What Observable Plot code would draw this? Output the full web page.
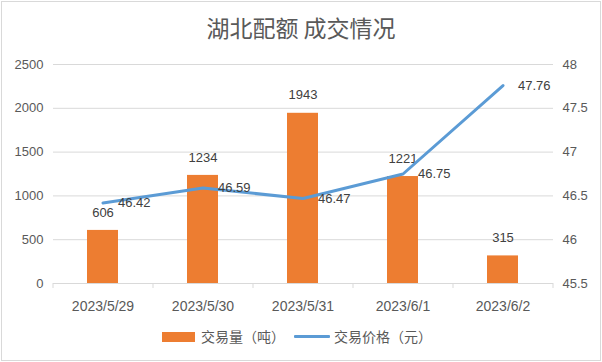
<!DOCTYPE html>
<html><head><meta charset="utf-8">
<script src="https://cdn.jsdelivr.net/npm/d3@7"></script>
<script src="https://cdn.jsdelivr.net/npm/@observablehq/plot@0.6"></script>
<style>
body{margin:0;background:#fff;}
#wrap{position:relative;width:602px;height:362px;overflow:hidden;background:#fff;}
#frame{position:absolute;left:1px;top:1px;width:600px;height:360px;border:1px solid #d9d9d9;box-sizing:border-box;}
#title{position:absolute;left:0;top:15px;width:602px;text-align:center;font-family:"Noto Sans CJK SC",sans-serif;font-size:23px;line-height:24px;color:#595959;}
#chart{position:absolute;left:0;top:44px;}
.lg{position:absolute;font-family:"Noto Sans CJK SC",sans-serif;font-size:14px;line-height:16px;color:#595959;white-space:nowrap;}
</style>
</head><body>
<div id="wrap">
  <div id="frame"></div>
  <div id="title">湖北配额 成交情况</div>
  <div id="chart"></div>
  <div class="lg" style="left:162px;top:332px;width:33px;height:10px;background:#ED7D31;"></div>
  <div class="lg" id="lg1" style="left:201px;top:328px;"></div>
  <div class="lg" style="left:294px;top:335px;width:36px;height:3px;background:#5B9BD5;border-radius:1px;"></div>
  <div class="lg" id="lg2" style="left:334px;top:328px;"></div>
</div>
<script>
const dates = ["2023/5/29","2023/5/30","2023/5/31","2023/6/1","2023/6/2"];
const volume = [606, 1234, 1943, 1221, 315];
const price = [46.42, 46.59, 46.47, 46.75, 47.76];
const volTicks = [0, 500, 1000, 1500, 2000, 2500];
const priceTicks = [45.5, 46, 46.5, 47, 47.5, 48];
const seriesNames = ["交易量（吨）", "交易价格（元）"];

document.getElementById("lg1").textContent = seriesNames[0];
document.getElementById("lg2").textContent = seriesNames[1];

const pMin = priceTicks[0], pMax = priceTicks[priceTicks.length - 1];
const vMax = volTicks[volTicks.length - 1];
const toVol = p => (p - pMin) / (pMax - pMin) * vMax;
const toPrice = v => pMin + v / vMax * (pMax - pMin);
const rows = dates.map((d, i) => ({date: d, volume: volume[i], price: price[i], pv: toVol(price[i])}));

const numFont = "'Liberation Sans', 'Noto Sans CJK SC', sans-serif";
const chart = Plot.plot({
  width: 602, height: 276,
  marginLeft: 53, marginRight: 49, marginTop: 20, marginBottom: 37,
  style: {fontFamily: numFont, fontSize: "13px", color: "#595959", background: "transparent"},
  x: {domain: dates, paddingInner: 0.69, paddingOuter: 0.345},
  y: {domain: [0, vMax]},
  marks: [
    Plot.ruleY(volTicks.slice(1), {stroke: "#d9d9d9", strokeWidth: 1}),
    Plot.ruleY([0], {stroke: "#d9d9d9", strokeWidth: 1}),
    Plot.ruleX(dates, {x: d => d, dx: -50, y1: 0, y2: -57, stroke: "#d9d9d9"}),
    Plot.ruleX(dates.slice(-1), {x: d => d, dx: 50, y1: 0, y2: -57, stroke: "#d9d9d9"}),
    Plot.barY(rows, {x: "date", y: "volume", fill: "#ED7D31"}),
    Plot.text(rows, {x: "date", y: "volume", text: d => String(d.volume), dy: -18, fill: "#404040", fontSize: 13}),
    Plot.line(rows, {x: "date", y: "pv", stroke: "#5B9BD5", strokeWidth: 3, curve: "linear", strokeLinejoin: "round", strokeLinecap: "round"}),
    Plot.text(rows, {x: "date", y: "pv", text: d => d.price.toFixed(2), dx: 15, textAnchor: "start", fill: "#404040", fontSize: 13}),
    Plot.axisX({tickSize: 0, tickPadding: 18, label: null, fontSize: 14, fill: "#595959"}),
    Plot.axisY({anchor: "left", ticks: volTicks, tickFormat: d => String(d), tickSize: 0, tickPadding: 10, label: null, fill: "#595959"}),
    Plot.axisY({anchor: "right", ticks: priceTicks.map(toVol), tickFormat: v => String(+toPrice(v).toFixed(2)), tickSize: 0, tickPadding: 9, label: null, fill: "#595959"})
  ]
});
document.getElementById("chart").appendChild(chart);
</script>
</body></html>
